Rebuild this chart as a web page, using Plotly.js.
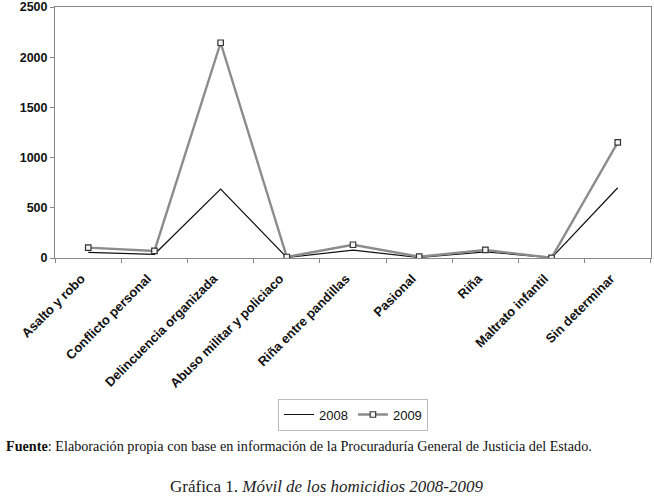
<!DOCTYPE html>
<html>
<head>
<meta charset="utf-8">
<script src="https://cdn.plot.ly/plotly-3.0.1.min.js"></script>
<style>html,body{margin:0;padding:0;background:#fff;}#chart{width:654px;height:496px;}</style>
</head>
<body>
<div id="chart"></div>
<script>
const categories = ["Asalto y robo", "Conflicto personal", "Delincuencia organizada", "Abuso militar y policiaco", "Riña entre pandillas", "Pasional", "Riña", "Maltrato infantil", "Sin determinar"];
const values2008 = [57, 37, 687, 5, 78, 5, 62, 2, 700];
const values2009 = [103, 70, 2144, 10, 132, 13, 80, 2, 1152];
const yTicks = [0, 500, 1000, 1500, 2000, 2500];

const traces = [
  {x: categories, y: values2008, name: "2008", type: "scatter", mode: "lines",
   line: {color: "#111111", width: 1.2}},
  {x: categories, y: values2009, name: "2009", type: "scatter", mode: "lines+markers",
   line: {color: "#8c8c8c", width: 2.4},
   marker: {symbol: "square", size: 5.5, color: "#f4f4f4", line: {color: "#333333", width: 1.2}}}
];

const layout = {
  width: 654, height: 496,
  margin: {l: 55, r: 3, t: 7, b: 238},
  paper_bgcolor: "#ffffff", plot_bgcolor: "#ffffff",
  showlegend: true,
  legend: {orientation: "h", x: 0.5, xanchor: "center", y: -0.56, yanchor: "top",
    bordercolor: "#bbbbbb", borderwidth: 1, bgcolor: "#ffffff",
    font: {family: "Liberation Sans, Arial, sans-serif", size: 13, color: "#111"},
    itemwidth: 30, tracegroupgap: 0},
  xaxis: {type: "category", showgrid: false, zeroline: false,
    showline: true, linecolor: "#888888", linewidth: 1, mirror: true,
    ticks: "outside", ticklen: 4, tickcolor: "#888888", tickson: "boundaries",
    tickangle: -45, ticklabelstandoff: 7, ticklabelshift: -7,
    tickfont: {family: "Liberation Sans, Arial, sans-serif", size: 13, color: "#111", weight: "bold"}},
  yaxis: {range: [0, 2500], tickvals: yTicks, ticktext: yTicks.map(String),
    showgrid: false, zeroline: false, ticklabeloverflow: "allow",
    showline: true, linecolor: "#888888", linewidth: 1, mirror: true,
    ticks: "outside", ticklen: 4, tickcolor: "#888888",
    tickfont: {family: "Liberation Sans, Arial, sans-serif", size: 12.5, color: "#111", weight: "bold"}},
  annotations: [
    {xref: "paper", yref: "paper", x: -0.085, y: -0.75, xanchor: "left", yanchor: "middle",
     showarrow: false, align: "left",
     text: "<b>Fuente</b>: Elaboración propia con base en información de la Procuraduría General de Justicia del Estado.",
     font: {family: "Liberation Serif, Times New Roman, serif", size: 14.2, color: "#111"}},
    {xref: "paper", yref: "paper", x: 0.456, y: -0.91, xanchor: "center", yanchor: "middle",
     showarrow: false,
     text: "Gráfica 1. <i>Móvil de los homicidios 2008-2009</i>",
     font: {family: "Liberation Serif, Times New Roman, serif", size: 17, color: "#222"}}
  ]
};

Plotly.newPlot("chart", traces, layout, {displayModeBar: false, staticPlot: true});
</script>
</body>
</html>
